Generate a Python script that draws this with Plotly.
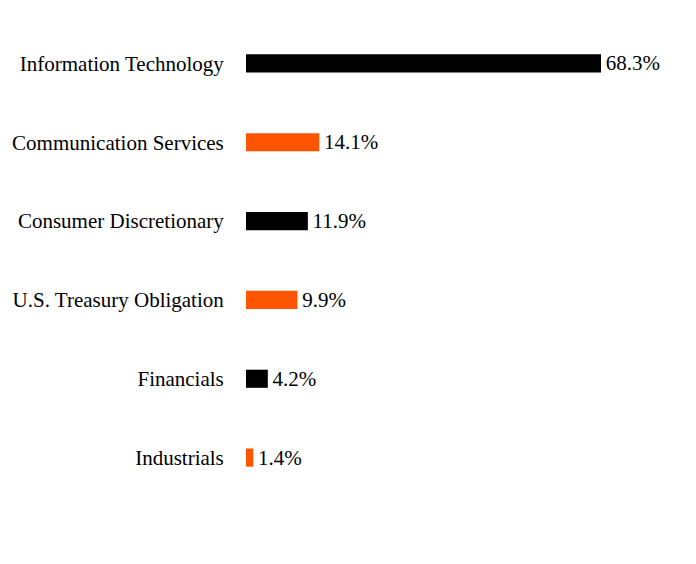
import plotly.graph_objects as go

categories = ["Information Technology", "Communication Services", "Consumer Discretionary",
              "U.S. Treasury Obligation", "Financials", "Industrials"]
values = [68.3, 14.1, 11.9, 9.9, 4.2, 1.4]
labels = ["68.3%", "14.1%", "11.9%", "9.9%", "4.2%", "1.4%"]
colors = ["#000000", "#FF5500", "#000000", "#FF5500", "#000000", "#FF5500"]

fig = go.Figure(go.Bar(
    x=values, y=categories, orientation="h",
    marker=dict(color=colors, line=dict(width=0)),
    text=labels, texttemplate="\u200a%{text}",
    textposition="outside", cliponaxis=False, constraintext="none",
    textfont=dict(family="Liberation Serif", size=21, color="#000000"),
    width=0.23,
))
fig.update_layout(
    width=696, height=564,
    margin=dict(l=246, r=16, t=23.5, b=66.5),
    paper_bgcolor="white", plot_bgcolor="white",
    showlegend=False,
    font=dict(family="Liberation Serif", size=21, color="#000000"),
    xaxis=dict(range=[0, 83.5], visible=False),
    yaxis=dict(autorange="reversed", showgrid=False, zeroline=False, showline=False,
               ticks="outside", ticklen=17, tickcolor="rgba(0,0,0,0)",
               tickfont=dict(family="Liberation Serif", size=21, color="#000000")),
)
fig.write_html("out.html")
